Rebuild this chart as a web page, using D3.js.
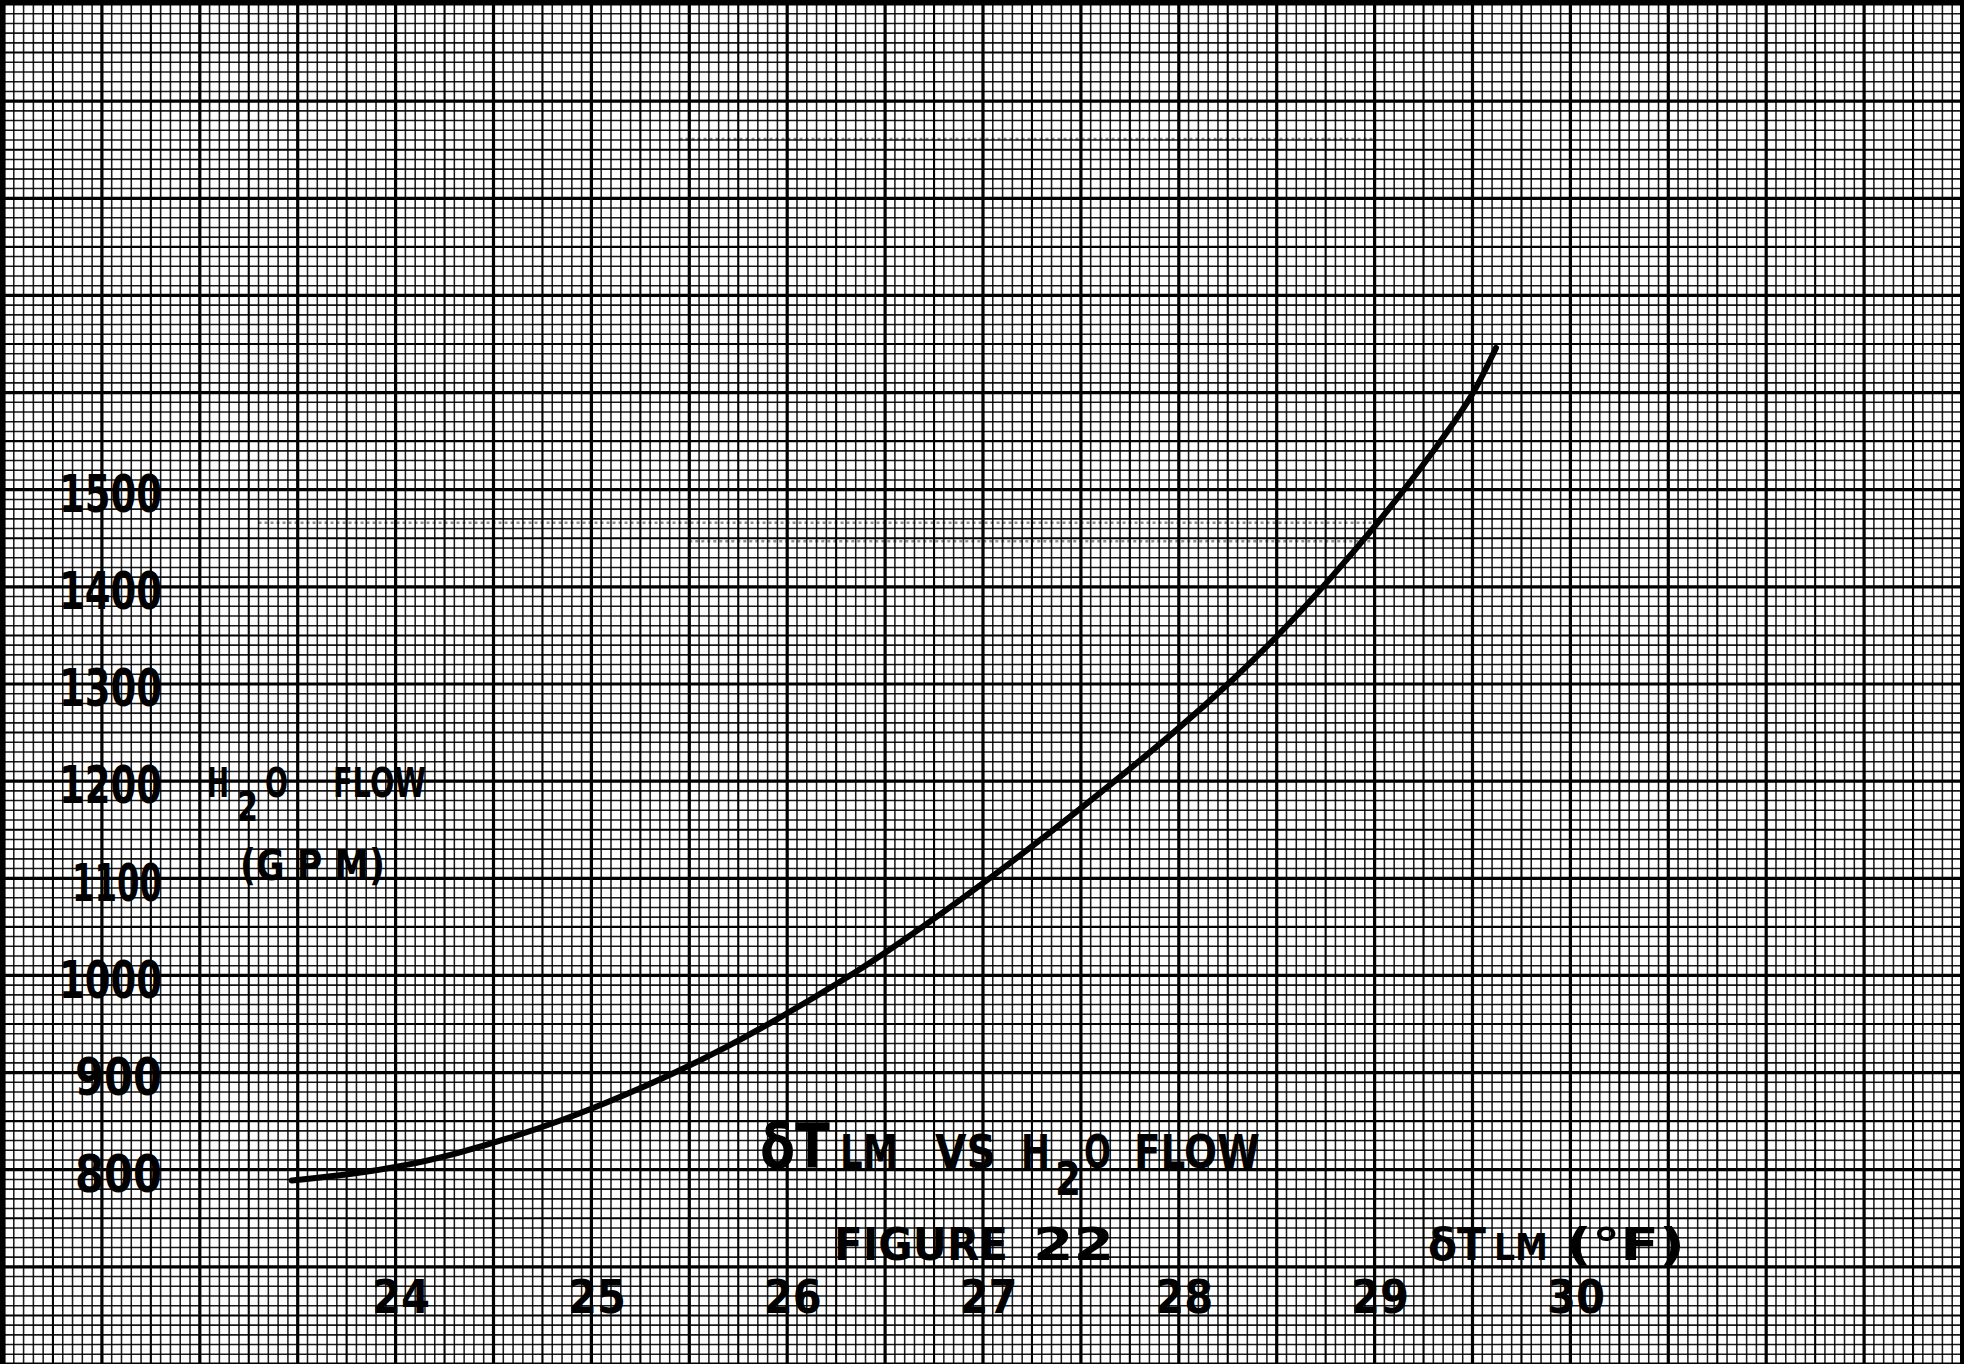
<!DOCTYPE html>
<html>
<head>
<meta charset="utf-8">
<script src="https://cdn.jsdelivr.net/npm/d3@7"></script>
<style>
  html, body { margin: 0; padding: 0; background: #ffffff; }
  svg { display: block; }
</style>
</head>
<body>
<svg id="chart" width="1976" height="1364"></svg>
<script>
// ---------------- DATA ----------------
// δTLM (°F) along the curve
const deltaTLM = [23.47, 23.77, 24.05, 24.32, 24.56, 24.87, 25.14, 25.42, 25.69, 25.96,
                  26.27, 26.54, 27.04, 27.51, 28.02, 28.28, 28.50, 28.77, 29.01, 29.23,
                  29.42, 29.52, 29.62];
// H2O flow (GPM) along the curve
const flowGPM  = [789, 795, 804, 817, 831, 852, 874, 899, 926, 956,
                  993, 1028, 1100, 1173, 1257, 1305, 1348, 1407, 1464, 1520,
                  1573, 1604, 1646];

const xTickValues = [24, 25, 26, 27, 28, 29, 30];
const xTickLabels = ["24", "25", "26", "27", "28", "29", "30"];
const yTickValues = [800, 900, 1000, 1100, 1200, 1300, 1400, 1500];
const yTickLabels = ["800", "900", "1000", "1100", "1200", "1300", "1400", "1500"];

// extent of the graph paper in data units
const paperT = [22, 32];
const paperG = [600, 2000];
const minorStepT = 0.05;   // 10 small squares per heavy line, heavy line = 0.5 °F
const minorStepG = 10;     // heavy line = 100 GPM

// faint pencil / erased construction marks visible on the sheet
const faintLines = [
  { t0: 25.45, t1: 29.0, g: 1861 },
  { t0: 23.3,  t1: 29.0, g: 1466 },
  { t0: 25.5,  t1: 29.0, g: 1447 }
];

// ---------------- SCALES ----------------
const svg = d3.select("#chart");
const x = d3.scaleLinear().domain(paperT).range([4, 1962]);
const y = d3.scaleLinear().domain(paperG).range([1364, 4]);
const FONT = "'DejaVu Sans', 'Liberation Sans', sans-serif";

// ---------------- GRID ----------------
const grid = svg.append("g").attr("class", "grid");
const nT = Math.round((paperT[1] - paperT[0]) / minorStepT);
const nG = Math.round((paperG[1] - paperG[0]) / minorStepG);
const weight = i => (i % 10 === 0 ? 3.2 : (i % 5 === 0 ? 2.1 : 1.55));

grid.selectAll("line.v").data(d3.range(nT + 1)).join("line")
  .attr("class", "v")
  .attr("x1", i => x(paperT[0] + i * minorStepT))
  .attr("x2", i => x(paperT[0] + i * minorStepT))
  .attr("y1", y(paperG[1]))
  .attr("y2", y(paperG[0]))
  .attr("stroke", "#000")
  .attr("stroke-opacity", i => (i % 5 === 0 ? 1 : 0.9))
  .attr("stroke-width", weight);

grid.selectAll("line.h").data(d3.range(nG + 1)).join("line")
  .attr("class", "h")
  .attr("x1", x(paperT[0]))
  .attr("x2", x(paperT[1]))
  .attr("y1", i => y(paperG[0] + i * minorStepG))
  .attr("y2", i => y(paperG[0] + i * minorStepG))
  .attr("stroke", "#000")
  .attr("stroke-opacity", i => (i % 5 === 0 ? 1 : 0.9))
  .attr("stroke-width", weight);

// sheet border
svg.append("rect")
  .attr("x", x(paperT[0]) - 2).attr("y", y(paperG[1]) - 2)
  .attr("width", x(paperT[1]) - x(paperT[0]) + 2)
  .attr("height", y(paperG[0]) - y(paperG[1]) + 4)
  .attr("fill", "none").attr("stroke", "#000").attr("stroke-width", 4);

// faint construction marks
svg.append("g").selectAll("line").data(faintLines).join("line")
  .attr("x1", d => x(d.t0)).attr("x2", d => x(d.t1))
  .attr("y1", d => y(d.g)).attr("y2", d => y(d.g))
  .attr("stroke", "#000").attr("stroke-opacity", 0.45)
  .attr("stroke-width", 2.5).attr("stroke-dasharray", "3,3");

// ---------------- CURVE ----------------
const pts = deltaTLM.map((t, i) => [t, flowGPM[i]]);
const line = d3.line().x(d => x(d[0])).y(d => y(d[1])).curve(d3.curveBasis);
svg.append("path")
  .datum(pts)
  .attr("d", line)
  .attr("fill", "none")
  .attr("stroke", "#000")
  .attr("stroke-width", 6)
  .attr("stroke-linecap", "round");

// ---------------- AXES (tick labels only, hand-lettered style) ----------------
const letterWidth = s => s.split("").reduce((a, ch) => a + (ch === "1" ? 16 : 29), 0);

const yAxis = d3.axisLeft(y).tickValues(yTickValues)
  .tickFormat((d, i) => yTickLabels[i]).tickSize(0).tickPadding(0);
const gy = svg.append("g").attr("transform", "translate(162,0)").call(yAxis);
gy.select(".domain").remove();
gy.selectAll("text")
  .attr("font-family", FONT).attr("font-weight", "bold").attr("font-size", 52)
  .attr("fill", "#000").attr("dy", "0.42em")
  .attr("textLength", (d, i) => letterWidth(yTickLabels[i]))
  .attr("lengthAdjust", "spacingAndGlyphs");

const xAxis = d3.axisBottom(x).tickValues(xTickValues)
  .tickFormat((d, i) => xTickLabels[i]).tickSize(0).tickPadding(0);
const gx = svg.append("g").attr("transform", "translate(5,1280)").call(xAxis);
gx.select(".domain").remove();
gx.selectAll("text")
  .attr("font-family", FONT).attr("font-weight", "bold").attr("font-size", 46)
  .attr("fill", "#000").attr("dy", "0.71em")
  .attr("textLength", 58).attr("lengthAdjust", "spacingAndGlyphs");

// ---------------- LETTERING ----------------
// a piece of hand lettering: text, left x, baseline y, font size, width
function letter(text, xPos, base, size, width) {
  return svg.append("text")
    .attr("x", xPos).attr("y", base)
    .attr("font-family", FONT).attr("font-weight", "bold")
    .attr("font-size", size).attr("fill", "#000")
    .attr("textLength", width).attr("lengthAdjust", "spacingAndGlyphs")
    .text(text);
}

// y-axis title: H2O FLOW (GPM)
const yTitleBase = y(1200) + 16;
letter("H",    207, yTitleBase,      40, 22);
letter("2",    237, yTitleBase + 24, 40, 21);
letter("O",    265, yTitleBase,      40, 23);
letter("FLOW", 333, yTitleBase,      40, 93);
letter("(G P M)", 240, y(1100) + 2,  42, 145);

// chart title: δTLM VS H2O FLOW
const titleBase = 1168;
letter("δT",   760,  titleBase,      63, 70);
letter("LM",   840,  titleBase,      47, 58);
letter("VS",   935,  titleBase,      47, 61);
letter("H",    1021, titleBase,      47, 29);
letter("2",    1055, titleBase + 27, 47, 26);
letter("O",    1084, titleBase,      47, 27);
letter("FLOW", 1134, titleBase,      47, 126);

// figure caption and x-axis title
const capBase = 1260;
letter("FIGURE", 834,  capBase, 44, 174);
letter("22",     1033, capBase, 44, 81);
letter("δT",     1428, capBase, 44, 58);
letter("LM",     1494, capBase, 37, 54);
letter("(°F)",   1566, capBase, 44, 119);
</script>
</body>
</html>
